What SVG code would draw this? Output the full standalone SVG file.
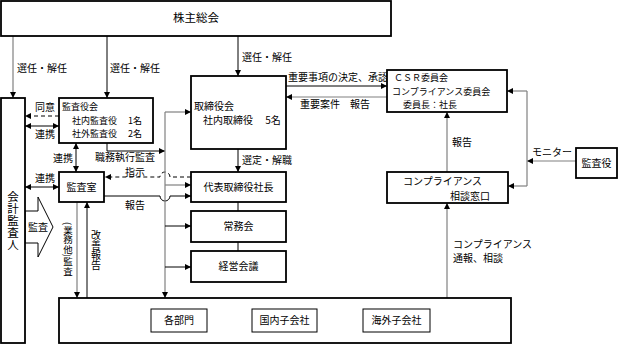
<svg xmlns="http://www.w3.org/2000/svg" width="622" height="345" viewBox="0 0 622 345">
<style>
text{font-family:"Noto Sans CJK JP","Noto Sans",sans-serif;font-size:10px;fill:#000}
.box{fill:#fff;stroke:#000;stroke-width:1.8}
.in{fill:#fff;stroke:#000;stroke-width:1}
.k{fill:none;stroke:#000;stroke-width:1}
.g{fill:none;stroke:#808080;stroke-width:1.2}
.d{stroke-dasharray:4,3}
.c{text-anchor:middle}
.s{font-size:9px}
.v{writing-mode:vertical-rl;dominant-baseline:central}
</style>
<defs>
<marker id="ak" markerUnits="userSpaceOnUse" markerWidth="7" markerHeight="7" refX="6" refY="3" orient="auto-start-reverse"><path d="M0,0 L6,3 L0,6 z" fill="#000"/></marker>
</defs>

<g id="connectors">
<path class="g" d="M13,36 V98" marker-end="url(#ak)"/>
<path class="k" d="M107,36 V98" marker-end="url(#ak)"/>
<path class="k" d="M238,36 V76" marker-end="url(#ak)"/>
<path class="k d" d="M59,116 H25" marker-end="url(#ak)"/>
<path class="k" d="M25,126 H59" marker-start="url(#ak)" marker-end="url(#ak)"/>
<path class="k" d="M76,143 V172" marker-start="url(#ak)" marker-end="url(#ak)"/>
<path class="k" d="M25,187 H59" marker-start="url(#ak)" marker-end="url(#ak)"/>
<polygon class="k" points="25,211 38,211 38,197 53,227 38,257 38,243 25,243" style="fill:#fff"/>
<path class="k" d="M107,143 V151 H165" marker-end="url(#ak)"/>
<path class="k d" d="M191,177 H170 A5,5 0 0 0 160,177 H105" marker-end="url(#ak)"/>
<path class="k" d="M104,196 H160 A5,5 0 0 0 170,196 H191" marker-end="url(#ak)"/>
<path class="g" d="M165,112 H191" marker-end="url(#ak)"/>
<path class="g" d="M165,112 V298" marker-end="url(#ak)"/>
<path class="g" d="M165,185 H191" marker-end="url(#ak)"/>
<path class="k" d="M165,226 H191" marker-end="url(#ak)"/>
<path class="k" d="M165,267 H191" marker-end="url(#ak)"/>
<path class="k" d="M238,149 V172" marker-end="url(#ak)"/>
<path class="k" d="M238,202 V211 M238,242 V251"/>
<path class="g" d="M77,202 V298" marker-end="url(#ak)"/>
<path class="k" d="M87,298 V202" marker-end="url(#ak)"/>
<path class="k" d="M286,86 H387" marker-end="url(#ak)"/>
<path class="g" d="M387,97 H286" marker-end="url(#ak)"/>
<path class="g" d="M447,172 V112" marker-end="url(#ak)"/>
<path class="g" d="M447,298 V203" marker-end="url(#ak)"/>
<path class="g" d="M576,161 H527" marker-end="url(#ak)"/>
<path class="g" d="M527,91 V186"/>
<path class="g" d="M527,91 H507" marker-end="url(#ak)"/>
<path class="g" d="M527,186 H508" marker-end="url(#ak)"/>
</g>

<g id="labels">
<text x="17" y="71.5">選任・解任</text>
<text x="110" y="71.5">選任・解任</text>
<text x="242" y="60.5">選任・解任</text>
<text x="35" y="111">同意</text>
<text x="35" y="138">連携</text>
<text x="53" y="161.5">連携</text>
<text x="35" y="181.5">連携</text>
<text x="28" y="230.5">監査</text>
<text x="95" y="160.5">職務執行監査</text>
<text x="125" y="176">指示</text>
<text x="125" y="208.5">報告</text>
<text x="242" y="163.5">選定・解職</text>
<text class="v" x="68" y="222" style="font-size:9.5px">(業務他)監査</text>
<text class="v" x="96" y="230">改善報告</text>
<text x="288" y="81">重要事項の決定、承認</text>
<text x="300" y="107.5">重要案件　報告</text>
<text x="452" y="145.5">報告</text>
<text x="453" y="247.5">コンプライアンス</text>
<text x="453" y="261.5">通報、相談</text>
<text x="532" y="155.5">モニター</text>
</g>

<g id="n-kabunushi"><rect class="box" x="1" y="1" width="390" height="35"/><text class="c" x="196" y="22" style="font-size:11.5px">株主総会</text></g>
<g id="n-kaikei"><rect class="box" x="1" y="98" width="24" height="245"/><text class="v" x="13" y="191" style="font-size:11.5px;letter-spacing:0.5px">会計監査人</text></g>
<g id="n-kansayakukai"><rect class="box" x="59" y="98" width="94" height="45"/>
<text class="s" x="62" y="110">監査役会</text>
<text class="s" x="72" y="123.5">社内監査役　 1名</text>
<text class="s" x="72" y="137">社外監査役　 2名</text></g>
<g id="n-kansashitsu"><rect class="box" x="59" y="172" width="45" height="30"/><text class="c" x="81.5" y="190.5">監査室</text></g>
<g id="n-torishimariyakukai"><rect class="box" x="191" y="76" width="95" height="73"/>
<text x="194" y="110">取締役会</text>
<text x="203" y="124">社内取締役　 5名</text></g>
<g id="n-daihyo"><rect class="box" x="191" y="172" width="95" height="30"/><text class="c" x="238.5" y="190.5">代表取締役社長</text></g>
<g id="n-jomukai"><rect class="box" x="191" y="211" width="95" height="31"/><text class="c" x="238.5" y="230">常務会</text></g>
<g id="n-keiei"><rect class="box" x="191" y="251" width="95" height="31"/><text class="c" x="238.5" y="270">経営会議</text></g>
<g id="n-csr"><rect class="box" x="387" y="70" width="120" height="42"/>
<text class="s" x="394" y="81">ＣＳＲ委員会</text>
<text class="s" x="392" y="94.5">コンプライアンス委員会</text>
<text class="s" x="403" y="108">委員長：社長</text></g>
<g id="n-madoguchi"><rect class="box" x="387" y="172" width="121" height="31"/>
<text x="403" y="184.5">コンプライアンス</text>
<text x="450" y="199.5">相談窓口</text></g>
<g id="n-kansayaku"><rect class="box" x="576" y="148" width="41" height="30"/><text class="c" x="596.5" y="166.5">監査役</text></g>
<g id="n-bottom"><rect class="box" x="59" y="298" width="452" height="45"/>
<g id="n-kakubumon"><rect class="in" x="151" y="309" width="56" height="23"/><text class="c" x="179" y="324">各部門</text></g>
<g id="n-kokunai"><rect class="in" x="252" y="309" width="65" height="23"/><text class="c" x="284.5" y="324">国内子会社</text></g>
<g id="n-kaigai"><rect class="in" x="363" y="309" width="67" height="23"/><text class="c" x="396.5" y="324">海外子会社</text></g>
</g>
</svg>
